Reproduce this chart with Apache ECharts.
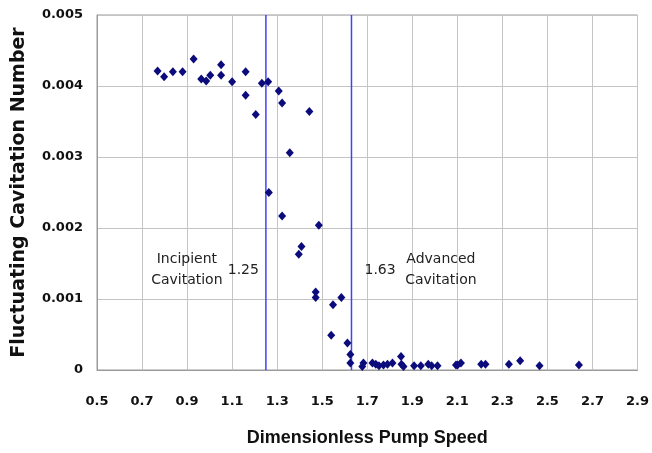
<!DOCTYPE html>
<html>
<head>
<meta charset="utf-8">
<script src="https://cdn.jsdelivr.net/npm/echarts@6/dist/echarts.min.js"></script>
<style>html,body{margin:0;padding:0;background:#fff;}#c{width:652px;height:453px;}</style>
</head>
<body>
<div id="c"></div>
<script>
const xTicks = [0.5,0.7,0.9,1.1,1.3,1.5,1.7,1.9,2.1,2.3,2.5,2.7,2.9];
const yTicks = [0,0.001,0.002,0.003,0.004,0.005];
const speed = [
 0.769,0.798,0.837,0.880,0.929,0.963,0.985,1.003,1.051,1.051,1.100,1.160,1.160,1.205,1.232,1.260,1.307,1.322,
 1.443,1.356,1.263,1.322,1.485,1.408,1.396,
 1.471,1.471,1.548,1.585,1.540,1.612,1.625,1.625,
 1.683,1.678,1.723,1.738,1.752,1.772,1.790,1.812,1.850,1.852,1.861,1.908,1.938,1.971,1.986,2.012,2.094,
 2.101,2.116,2.206,2.225,2.329,2.379,2.465,2.640
];
const cavNum = [
 0.00421,0.00413,0.00420,0.00420,0.00438,0.00410,0.00407,0.00415,0.00430,0.00415,0.00406,0.00420,0.00387,0.00360,0.00404,0.00406,0.00393,0.00376,
 0.00364,0.00306,0.00250,0.00217,0.00204,0.00174,0.00163,
 0.00110,0.00102,0.00092,0.00102,0.00049,0.00038,0.00022,0.00010,
 0.00010,0.00005,0.00010,0.00008,0.00006,0.00007,0.00008,0.00010,0.00019,0.00008,0.00005,0.00006,0.00006,0.00008,0.00006,0.00006,0.00007,
 0.00007,0.00010,0.00008,0.00008,0.00008,0.00013,0.00006,0.00007
];
const thresholds = [1.25, 1.63];
const thresholdLabels = ['1.25', '1.63'];
const regionLabels = ['Incipient\nCavitation', 'Advanced\nCavitation'];

const chart = echarts.init(document.getElementById('c'), null, {renderer:'canvas'});
const tickFont = {fontFamily:'DejaVu Sans', fontWeight:'bold', fontSize:13, color:'#111'};
const yMin = yTicks[0], yMax = yTicks[yTicks.length-1];
const lineSeries = thresholds.map((t,i) => ({
  type:'line', name:'th'+i, data:[[t, yMin],[t, yMax]], symbol:'none', silent:true, z:1,
  color:'#4040ff',
  lineStyle:{color:'#4040ff', width:1.5, type:'solid', opacity:1},
  emphasis:{disabled:true}
}));
chart.setOption({
  animation:false,
  grid:{left:97, top:15, right:14, bottom:83, show:true, borderColor:'#9a9a9a', borderWidth:1},
  xAxis:{
    type:'value', min:xTicks[0], max:xTicks[xTicks.length-1], interval:0.2,
    name:'Dimensionless Pump Speed', nameLocation:'middle', nameGap:59,
    nameTextStyle:{fontFamily:'Liberation Sans', fontWeight:'bold', fontSize:18, color:'#111'},
    axisLine:{show:true, onZero:false, lineStyle:{color:'#9a9a9a'}},
    axisTick:{show:false},
    splitLine:{show:true, lineStyle:{color:'#c4c4c4', width:1}},
    axisLabel:Object.assign({margin:25, formatter:v=>v.toFixed(1)}, tickFont)
  },
  yAxis:{
    type:'value', min:yMin, max:yMax, interval:0.001,
    name:'Fluctuating Cavitation Number', nameLocation:'middle', nameGap:68,
    nameTextStyle:{fontFamily:'DejaVu Sans', fontWeight:'bold', fontSize:19, color:'#111'},
    axisLine:{show:true, lineStyle:{color:'#9a9a9a'}},
    axisTick:{show:false},
    splitLine:{show:true, lineStyle:{color:'#c4c4c4', width:1}},
    axisLabel:Object.assign({margin:14, padding:[4,0,0,0], formatter:v=>v===0?'0':v.toFixed(3)}, tickFont)
  },
  series:[{
    type:'scatter', z:3,
    data:speed.map((x,i)=>[x,cavNum[i]]),
    symbol:'diamond', symbolSize:[8,9],
    itemStyle:{color:'#0b0b7c', opacity:1}
  }].concat(lineSeries)
});

function place(){
  const txt = {fontFamily:'DejaVu Sans', fontSize:14, fill:'#222', lineHeight:21};
  const p1 = chart.convertToPixel({gridIndex:0}, [thresholds[0], 0.00141]);
  const p2 = chart.convertToPixel({gridIndex:0}, [thresholds[1], 0.00141]);
  const r1 = chart.convertToPixel({gridIndex:0}, [0.899, 0.00141]);
  const r2 = chart.convertToPixel({gridIndex:0}, [2.027, 0.00141]);
  chart.setOption({graphic:[
    {type:'text', x:p1[0]-7, y:p1[1], style:Object.assign({text:thresholdLabels[0], align:'right', verticalAlign:'middle'}, txt)},
    {type:'text', x:p2[0]+13, y:p2[1], style:Object.assign({text:thresholdLabels[1], align:'left', verticalAlign:'middle'}, txt)},
    {type:'text', x:r1[0], y:r1[1], style:Object.assign({text:regionLabels[0], align:'center', verticalAlign:'middle'}, txt)},
    {type:'text', x:r2[0], y:r2[1], style:Object.assign({text:regionLabels[1], align:'center', verticalAlign:'middle'}, txt)}
  ]});
}
place();
</script>
</body>
</html>
